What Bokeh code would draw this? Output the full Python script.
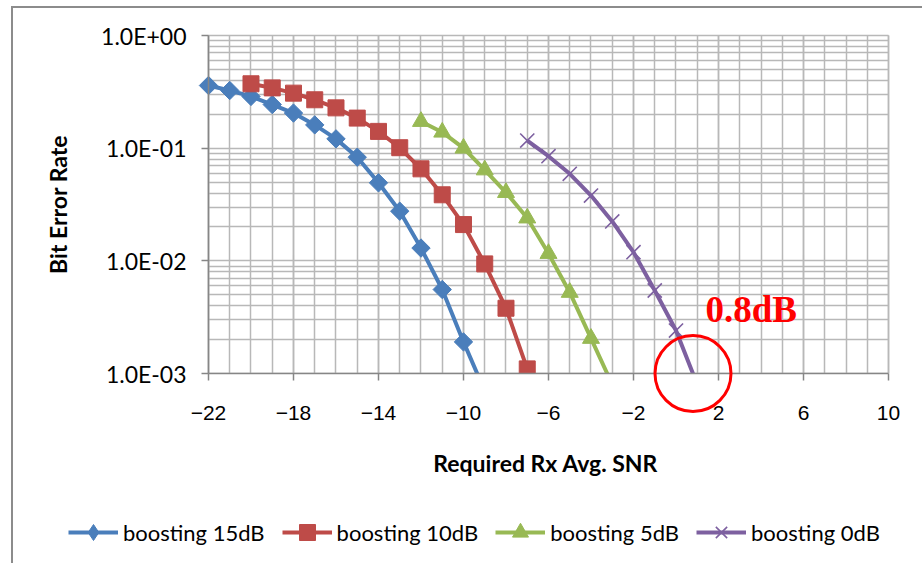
from bokeh.plotting import figure
from bokeh.models import (FixedTicker, CustomJSTickFormatter, Legend, LegendItem,
                          Label, Range1d, BoxAnnotation, Grid)
from bokeh.embed import file_html
from bokeh.resources import INLINE

# ---- data ----
snr_15 = [-22, -21, -20, -19, -18, -17, -16, -15, -14, -13, -12, -11, -10, -9]
ber_15 = [0.360, 0.325, 0.288, 0.244, 0.205, 0.161, 0.121, 0.0832, 0.0493,
          0.0276, 0.0130, 0.00557, 0.00191, 0.0007]

snr_10 = [-20, -19, -18, -17, -16, -15, -14, -13, -12, -11, -10, -9, -8, -7]
ber_10 = [0.373, 0.343, 0.308, 0.269, 0.228, 0.185, 0.141, 0.101, 0.0656,
          0.0386, 0.0210, 0.0094, 0.0038, 0.0011]

snr_5 = [-12, -11, -10, -9, -8, -7, -6, -5, -4, -3]
ber_5 = [0.1726, 0.1387, 0.100, 0.0641, 0.0404, 0.0240, 0.01163, 0.00525,
         0.00205, 0.0008]

snr_0 = [-7, -6, -5, -4, -3, -2, -1, 0, 1]
ber_0 = [0.117, 0.0849, 0.0593, 0.0380, 0.0224, 0.01195, 0.00546, 0.00241,
         0.0008]

series_names = ["boosting 15dB", "boosting 10dB", "boosting 5dB", "boosting 0dB"]

x_min, x_max = -22, 10
y_min, y_max = 1e-3, 1.0
x_ticks = [-22, -18, -14, -10, -6, -2, 2, 6, 10]
x_minor = list(range(-22, 11))
y_ticks = [1e-3, 1e-2, 1e-1, 1.0]
y_minor = [k * d for d in (1e-3, 1e-2, 1e-1) for k in range(2, 10)]

annot_x = 0.8
annot_y = 1e-3
annot_text = "0.8dB"

# ---- figure: the frame fills the canvas, axes sit at fixed data locations ----
p = figure(width=911, height=557,
           x_range=Range1d(-31.176, 11.694), y_range=Range1d(1.98e-5, 1.737),
           y_axis_type="log", output_backend="svg", toolbar_location=None,
           min_border_left=0, min_border_right=0, min_border_top=0,
           min_border_bottom=0,
           styles={"border-left": "2px solid #8c8c8c", "border-top": "2px solid #8c8c8c",
                   "margin-left": "11px", "margin-top": "6px"})
p.background_fill_color = "white"
p.border_fill_color = "white"
p.outline_line_color = None

grid_col = "#b8b8b8"
p.xaxis.ticker = FixedTicker(ticks=x_ticks, minor_ticks=x_minor)
p.yaxis.ticker = FixedTicker(ticks=y_ticks, minor_ticks=y_minor)
p.xgrid.ticker = FixedTicker(ticks=x_ticks, minor_ticks=x_minor)
p.ygrid.ticker = FixedTicker(ticks=y_ticks, minor_ticks=y_minor)
for g in (p.xgrid, p.ygrid):
    g.grid_line_color = grid_col
    g.grid_line_width = 1.5
    g.minor_grid_line_color = grid_col
    g.minor_grid_line_width = 1.5

use_cross = "cross_bounds" in Grid.properties()
if use_cross:
    p.xgrid.bounds = (x_min, x_max)
    p.xgrid.cross_bounds = (y_min, y_max)
    p.ygrid.bounds = (y_min, y_max)
    p.ygrid.cross_bounds = (x_min, x_max)

p.xaxis.fixed_location = y_min
p.yaxis.fixed_location = x_min
p.xaxis.bounds = (x_min, x_max)
p.yaxis.bounds = (y_min, y_max)

p.xaxis.formatter = CustomJSTickFormatter(code="""
    return tick < 0 ? '\\u2212' + Math.abs(tick) : String(tick);
""")
p.yaxis.formatter = CustomJSTickFormatter(code="""
    const e = Math.round(Math.log10(tick));
    const m = tick / Math.pow(10, e);
    const s = e < 0 ? '-' : '+';
    return m.toFixed(1) + 'E' + s + String(Math.abs(e)).padStart(2, '0');
""")

for ax in (p.xaxis, p.yaxis):
    ax.axis_line_color = "#868686"
    ax.axis_line_width = 1.5
    ax.major_tick_line_color = "#868686"
    ax.major_tick_line_width = 1.5
    ax.major_tick_out = 7
    ax.major_tick_in = 0
    ax.minor_tick_line_color = None
    ax.major_label_text_color = "black"
    ax.axis_label_text_color = "black"
    ax.axis_label_text_font_style = "bold"

p.yaxis.major_label_text_font = "Lato"
p.yaxis.major_label_text_font_size = "23px"
p.yaxis.major_label_standoff = 15
p.yaxis.axis_label = "Bit Error Rate"
p.yaxis.axis_label_text_font = "Lato"
p.yaxis.axis_label_text_font_size = "23px"
p.yaxis.axis_label_standoff = 26

p.xaxis.major_label_text_font = "Liberation Sans"
p.xaxis.major_label_text_font_size = "21px"
p.xaxis.major_label_standoff = 25
p.xaxis.axis_label = "Required Rx  Avg. SNR"
p.xaxis.axis_label_text_font = "Lato"
p.xaxis.axis_label_text_font_size = "23px"
p.xaxis.axis_label_standoff = 26

colors = ["#4A7EBB", "#BE4B48", "#98B954", "#7D60A0"]
xs = [snr_15, snr_10, snr_5, snr_0]
ys = [ber_15, ber_10, ber_5, ber_0]

items = []
for i, (name, x, y, c) in enumerate(zip(series_names, xs, ys, colors)):
    ln = p.line(x, y, line_color=c, line_width=4)
    if i == 0:
        # diamond (drawn under the rotated square; it is the one shown in the legend)
        leg = p.scatter(x, y, marker="diamond", size=13, fill_color=c, line_color=c)
        p.scatter(x, y, marker="square", size=13, angle=0.785398, fill_color=c,
                  line_color=c, line_width=1)
    elif i == 1:
        leg = p.scatter(x, y, marker="square", size=16, fill_color=c, line_color=c)
    elif i == 2:
        leg = p.scatter(x, y, marker="triangle", size=17, fill_color=c, line_color=c)
    else:
        leg = p.scatter(x, y, marker="x", size=20, line_color=c, line_width=1.6)
    items.append(LegendItem(label=name, renderers=[ln, leg]))

# the chart area ends at 1.0E-03: blank out the curve tails below it
cover = BoxAnnotation(top=y_min, fill_color="white", fill_alpha=1.0, line_color=None,
                      level="glyph")
p.add_layout(cover)
if not use_cross:
    for kw in ({"right": x_min}, {"left": x_max}, {"bottom": y_max}):
        p.add_layout(BoxAnnotation(fill_color="white", fill_alpha=1.0, line_color=None,
                                   level="glyph", **kw))

# red ring around the 0.8 dB crossing
p.scatter([annot_x], [annot_y], marker="circle", size=76, fill_color=None,
          line_color="#ff0000", line_width=3, level="overlay")

note = Label(x=1.39, y=0.00374, text=annot_text, text_font="Liberation Serif",
             text_font_style="bold", text_font_size="37px", text_color="#ff0000",
             text_baseline="alphabetic", text_align="left")
p.add_layout(note)

legend = Legend(items=items, orientation="horizontal", location=(55, 13),
                glyph_width=50, glyph_height=40, label_standoff=5, spacing=17,
                padding=0, margin=0, border_line_color=None, background_fill_alpha=0,
                label_text_font="Lato", label_text_font_size="22px",
                label_text_color="black")
p.add_layout(legend)

open("out.html", "w").write(file_html(p, INLINE))
